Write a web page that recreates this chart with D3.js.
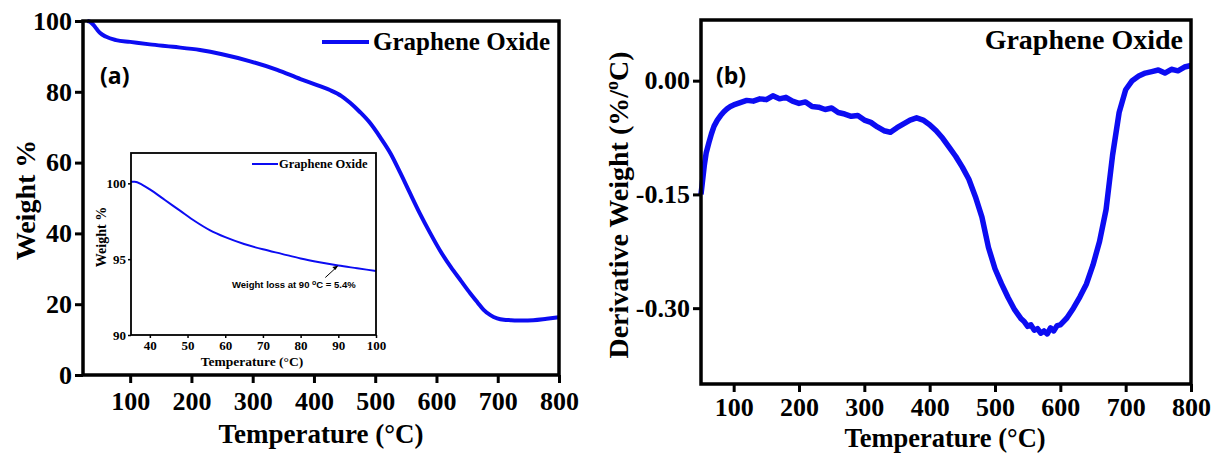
<!DOCTYPE html>
<html>
<head>
<meta charset="utf-8">
<script src="https://cdn.jsdelivr.net/npm/d3@7"></script>
<style>
body { margin: 0; background: #fff; }
svg text { font-family: "Liberation Serif", "Times New Roman", serif; font-weight: bold; fill: #000; }
</style>
</head>
<body>
<svg id="chart" width="1219" height="454"></svg>
<script>
// TGA curve, panel (a)
const tgaTemp   = [30, 35, 40, 45, 51, 60, 77, 100, 132, 170, 214, 250, 296, 340, 378, 405, 426, 445, 459, 475, 492, 508, 525, 541, 557, 573, 590, 606, 623, 640, 655, 667, 677, 688, 699, 710, 721, 740, 758, 780, 800]
const tgaWeight = [100, 99.7, 98.9, 97.8, 96.6, 95.6, 94.6, 94.1, 93.4, 92.7, 91.8, 90.6, 88.6, 86.2, 83.6, 81.9, 80.5, 78.8, 76.9, 74.3, 71.1, 67.2, 62.6, 57.1, 51.3, 45.6, 40.0, 35.1, 30.6, 26.6, 23.1, 20.5, 18.4, 16.9, 16.0, 15.6, 15.5, 15.4, 15.5, 15.9, 16.3]

// inset, 35-100 C
const insetTemp   = [35, 36, 38, 40, 44, 48, 52, 56, 60, 65, 70, 75, 80, 85, 90, 95, 100]
const insetWeight = [100.1, 100.1, 99.9, 99.6, 98.9, 98.2, 97.5, 96.9, 96.45, 96.0, 95.65, 95.35, 95.05, 94.8, 94.58, 94.4, 94.22]

// DTG curve, panel (b)
const dtgTemp  = [50, 52, 55, 58, 62, 66, 70, 75, 80, 85, 90, 95, 100, 110, 120, 130, 140, 150, 160, 170, 180, 190, 200, 210, 220, 230, 240, 250, 260, 270, 280, 290, 300, 310, 320, 330, 340, 350, 360, 370, 380, 390, 400, 410, 420, 430, 440, 450, 460, 470, 480, 490, 500, 510, 520, 530, 540, 545, 550, 555, 560, 565, 570, 575, 580, 585, 590, 595, 600, 610, 620, 630, 640, 650, 660, 670, 680, 690, 700, 710, 720, 730, 740, 750, 760, 770, 780, 790, 800]
const dtgDeriv = [-0.150, -0.135, -0.112, -0.095, -0.082, -0.070, -0.060, -0.052, -0.046, -0.041, -0.037, -0.034, -0.032, -0.029, -0.026, -0.027, -0.024, -0.025, -0.020, -0.024, -0.022, -0.027, -0.030, -0.028, -0.034, -0.035, -0.038, -0.036, -0.042, -0.044, -0.047, -0.046, -0.052, -0.055, -0.061, -0.066, -0.068, -0.062, -0.057, -0.052, -0.049, -0.052, -0.058, -0.066, -0.076, -0.088, -0.100, -0.114, -0.130, -0.153, -0.180, -0.220, -0.248, -0.268, -0.286, -0.302, -0.314, -0.318, -0.324, -0.322, -0.329, -0.327, -0.333, -0.330, -0.334, -0.326, -0.330, -0.323, -0.322, -0.313, -0.300, -0.285, -0.268, -0.243, -0.212, -0.170, -0.098, -0.042, -0.012, 0.000, 0.006, 0.010, 0.012, 0.014, 0.010, 0.015, 0.013, 0.018, 0.020]

const tgaXTicks = [100, 200, 300, 400, 500, 600, 700, 800]
const tgaYTicks = [0, 20, 40, 60, 80, 100]
const insetXTicks = [40, 50, 60, 70, 80, 90, 100]
const insetYTicks = [90, 95, 100]
const dtgXTicks = [100, 200, 300, 400, 500, 600, 700, 800]
const dtgYTicks = [-0.30, -0.15, 0.00]

const seriesName = "Graphene Oxide"
const blue = "#0c0cf2"

const svg = d3.select("#chart")

document.addEventListener('DOMContentLoaded', function () {
    drawTga()
    drawInset()
    drawDtg()
})

// frame + outward ticks, like the origin plots
function frame(g, x, y, xTicks, yTicks, o) {
    const [x0, x1] = x.range(), [y0, y1] = y.range()

    g.append("g")
        .attr("transform", `translate(0, ${y0})`)
        .call(d3.axisBottom(x).tickValues(xTicks).tickSize(o.tick).tickSizeOuter(0).tickPadding(o.xPad).tickFormat(o.xFmt || d3.format("d")))
        .call(a => a.select(".domain").remove())
        .call(a => a.selectAll("line").attr("stroke-width", o.tickW))
        .call(a => a.selectAll("text").attr("font-size", o.font).attr("font-family", null))

    g.append("g")
        .attr("transform", `translate(${x0}, 0)`)
        .call(d3.axisLeft(y).tickValues(yTicks).tickSize(o.tick).tickSizeOuter(0).tickPadding(o.yPad).tickFormat(o.yFmt || d3.format("d")))
        .call(a => a.select(".domain").remove())
        .call(a => a.selectAll("line").attr("stroke-width", o.tickW))
        .call(a => a.selectAll("text").attr("font-size", o.font).attr("font-family", null))

    g.append("rect")
        .attr("x", x0).attr("y", y1)
        .attr("width", x1 - x0).attr("height", y0 - y1)
        .attr("fill", "none").attr("stroke", "#000").attr("stroke-width", o.frameW)
}

function drawTga() {
    const g = svg.append("g")
    const x = d3.scaleLinear().domain([23, 800]).range([83, 559])
    const y = d3.scaleLinear().domain([0, 100]).range([375, 21])

    const pts = tgaTemp.map((t, i) => [t, tgaWeight[i]])
    g.append("path")
        .datum(pts)
        .attr("fill", "none").attr("stroke", blue).attr("stroke-width", 4)
        .attr("d", d3.line().x(d => x(d[0])).y(d => y(d[1])).curve(d3.curveMonotoneX))

    frame(g, x, y, tgaXTicks, tgaYTicks, {tick: 8, tickW: 3, xPad: 9, yPad: 3, font: 26, frameW: 3.5})

    g.append("text").attr("x", 321).attr("y", 443).attr("text-anchor", "middle")
        .attr("font-size", 27).text("Temperature (°C)")
    g.append("text").attr("transform", "translate(35, 200) rotate(-90)").attr("text-anchor", "middle")
        .attr("font-size", 28).text("Weight %")

    g.append("text").attr("x", 100).attr("y", 84)
        .style("font-family", "'Open Sans', 'Liberation Sans', sans-serif").attr("font-size", 23).text("(a)")

    // legend
    g.append("line").attr("x1", 322).attr("x2", 369).attr("y1", 42).attr("y2", 42)
        .attr("stroke", blue).attr("stroke-width", 4)
    g.append("text").attr("x", 373).attr("y", 50).attr("font-size", 25).text(seriesName)
}

function drawInset() {
    const g = svg.append("g")
    const x = d3.scaleLinear().domain([35, 100]).range([131, 376])
    const y = d3.scaleLinear().domain([90, 102]).range([335, 153])

    g.append("rect").attr("x", 131).attr("y", 153).attr("width", 245).attr("height", 182).attr("fill", "#fff")

    const pts = insetTemp.map((t, i) => [t, insetWeight[i]])
    g.append("path")
        .datum(pts)
        .attr("fill", "none").attr("stroke", blue).attr("stroke-width", 2)
        .attr("d", d3.line().x(d => x(d[0])).y(d => y(d[1])).curve(d3.curveMonotoneX))

    frame(g, x, y, insetXTicks, insetYTicks, {tick: 3, tickW: 1.5, xPad: 3, yPad: 2, font: 13, frameW: 1.8})

    g.append("text").attr("x", 252).attr("y", 366).attr("text-anchor", "middle")
        .attr("font-size", 13.5).text("Temperature (°C)")
    g.append("text").attr("transform", "translate(106, 237) rotate(-90)").attr("text-anchor", "middle")
        .attr("font-size", 14).text("Weight %")

    g.append("line").attr("x1", 252).attr("x2", 278).attr("y1", 164).attr("y2", 164)
        .attr("stroke", blue).attr("stroke-width", 2)
    g.append("text").attr("x", 279).attr("y", 168).attr("font-size", 12.5).text(seriesName)

    // annotation at 90 C
    const ax = x(90), ay = y(94.58)
    g.append("line").attr("x1", ax - 13).attr("y1", ay + 12).attr("x2", ax - 1).attr("y2", ay + 1)
        .attr("stroke", "#000").attr("stroke-width", 1)
    g.append("path").attr("d", `M${ax},${ay} l-6,1.5 l3,3 z`).attr("fill", "#000")
    const t = g.append("text").attr("x", 232).attr("y", 288)
        .style("font-family", "'Liberation Sans', Arial, sans-serif").attr("font-size", 9.5)
    t.append("tspan").text("Weight loss at 90 ")
    t.append("tspan").attr("dy", -3).attr("font-size", 7).text("o")
    t.append("tspan").attr("dy", 3).text("C = 5.4%")
}

function drawDtg() {
    const g = svg.append("g")
    const x = d3.scaleLinear().domain([50, 800]).range([701, 1191])
    const y = d3.scaleLinear().domain([-0.40, 0.08]).range([384, 20])

    const pts = dtgTemp.map((t, i) => [t, dtgDeriv[i]])
    g.append("path")
        .datum(pts)
        .attr("fill", "none").attr("stroke", blue).attr("stroke-width", 5.5)
        .attr("stroke-linejoin", "round")
        .attr("d", d3.line().x(d => x(d[0])).y(d => y(d[1])))

    frame(g, x, y, dtgXTicks, dtgYTicks, {tick: 8, tickW: 3, xPad: 6, yPad: 3, font: 26, frameW: 3.5,
        yFmt: d => d.toFixed(2)})

    g.append("text").attr("x", 945).attr("y", 447).attr("text-anchor", "middle")
        .attr("font-size", 26.5).text("Temperature (°C)")

    const yt = g.append("text").attr("transform", "translate(628, 205) rotate(-90)").attr("text-anchor", "middle")
        .attr("font-size", 28)
    yt.append("tspan").text("Derivative Weight (%/")
    yt.append("tspan").attr("dy", -10).attr("font-size", 18).text("o")
    yt.append("tspan").attr("dy", 10).text("C)")

    g.append("text").attr("x", 716).attr("y", 84)
        .style("font-family", "'Open Sans', 'Liberation Sans', sans-serif").attr("font-size", 23).text("(b)")

    g.append("text").attr("x", 1183).attr("y", 49).attr("text-anchor", "end")
        .attr("font-size", 28).text(seriesName)
}
</script>
</body>
</html>
